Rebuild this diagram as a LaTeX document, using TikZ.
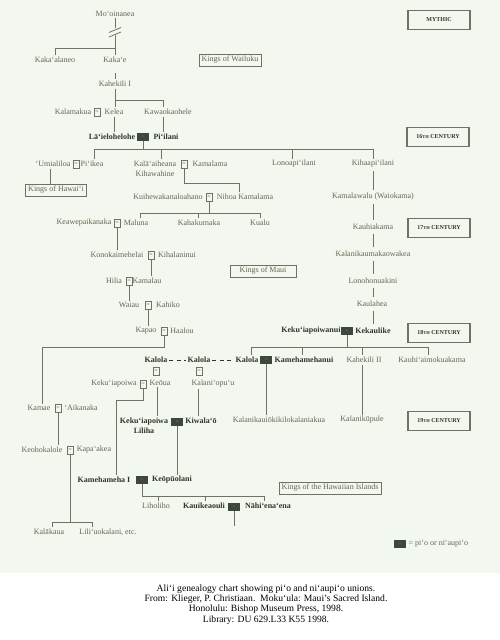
\documentclass[tikz,border=0pt]{standalone}
\usepackage{fontspec}
\setmainfont{Liberation Serif}
\definecolor{bgcol}{HTML}{F2F7EF}
\definecolor{txtcol}{HTML}{666654}
\definecolor{btxt}{HTML}{34342A}
\definecolor{lncol}{HTML}{727260}
\definecolor{piof}{HTML}{3E473C}
\tikzset{
  nm/.style={font=\fontsize{8}{10}\selectfont, text=txtcol, inner sep=1.5pt},
  bn/.style={font=\fontsize{8}{10}\selectfont\bfseries, text=btxt, inner sep=1.5pt},
  eqb/.style={draw=lncol, line width=0.5pt, fill=bgcol, minimum width=6.5pt, minimum height=7.5pt, inner sep=0pt, font=\fontsize{6}{6}\selectfont, text=txtcol},
  piob/.style={fill=piof, minimum width=12pt, minimum height=8.5pt, inner sep=0pt, font=\fontsize{5}{5}\selectfont, text=gray},
  kbox/.style={draw=lncol, line width=0.6pt, font=\fontsize{8}{10}\selectfont, text=txtcol, inner sep=2.5pt},
  cbox/.style={draw=lncol, line width=1.2pt, minimum width=62pt, minimum height=19pt, font=\fontsize{6}{7}\selectfont\bfseries, text=btxt},
  conn/.style={draw=lncol, line width=0.95pt},
}
\newcommand{\thsc}{{\fontsize{4.5}{5}\selectfont TH}}
\begin{document}
\begin{tikzpicture}[x=1pt,y=-1pt]
\fill[bgcol] (0,0) rectangle (500,573);
\useasboundingbox (0,0) rectangle (500,640);

% ---- century boxes
\node[cbox] (mythic) at (439,20) {MYTHIC};
\node[cbox] (c16) at (438,137) {16\thsc\ CENTURY};
\node[cbox] (c17) at (439,228) {17\thsc\ CENTURY};
\node[cbox] (c18) at (439,333) {18\thsc\ CENTURY};
\node[cbox] (c19) at (439,421) {19\thsc\ CENTURY};

% ---- kings boxes
\node[kbox] (wailuku) at (230,60) {Kings of Wailuku};
\node[kbox] (hawaii) at (56,190) {Kings of Hawai‘i};
\node[kbox, minimum width=66pt] (maui) at (263,271) {Kings of Maui};
\node[kbox] (islands) at (330,488) {Kings of the Hawaiian Islands};

% ---- mythic
\node[nm] (moo) at (115,14) {Mo‘oinanea};
\node[nm] (kakaalaneo) at (55,60) {Kaka‘alaneo};
\node[nm] (kakae) at (115,60) {Kaka‘e};
\node[nm] (kahekili) at (115,84) {Kahekili I};
\node[nm] (kalamakua) at (73,112) {Kalamakua};
\node[eqb] (e1) at (97,112) {=};
\node[nm] (kelea) at (114,112) {Kelea};
\node[nm] (kawao) at (168,112) {Kawaokaohele};
\node[bn] (laie) at (112,137) {Lā‘ielohelohe};
\node[piob] (p1) at (143,137) {=};
\node[bn] (piilani) at (166,137) {Pi‘ilani};

% ---- 16th century
\node[nm] (umia) at (53,164) {‘Umialiloa};
\node[eqb] (e2) at (76,164) {=};
\node[nm] (piikea) at (92,164) {Pi‘ikea};
\node[nm, align=center] (kalaai) at (155,169) {Kalā‘aiheana\\Kihawahine};
\node[eqb] (e3) at (184,164) {=};
\node[nm] (kamalama) at (210,164) {Kamalama};
\node[nm] (lonoapi) at (294,164) {Lonoapi‘ilani};
\node[nm] (kihaapi) at (373,164) {Kihaapi‘ilani};
\node[nm] (kuihewa) at (168,197) {Kuihewakanaloahano};
\node[eqb] (e4) at (209,197) {=};
\node[nm] (nihoa) at (245,197) {Nihoa Kamalama};
\node[nm] (kamalawalu) at (373,197) {Kamalawalu (Waiokama)};
\node[nm] (keawe) at (84,223) {Keawepaikanaka};
\node[eqb] (e5) at (117,223) {=};
\node[nm] (maluna) at (136,223) {Maluna};
\node[nm] (kahakumaka) at (199,223) {Kahakumaka};
\node[nm] (kualu) at (260,223) {Kualu};
\node[nm] (kauhiakama) at (373,227) {Kauhiakama};
\node[nm] (konokai) at (117,255) {Konokaimehelai};
\node[eqb] (e6) at (151,255) {=};
\node[nm] (kihalani) at (177,255) {Kihalaninui};
\node[nm] (kalanikau) at (373,254) {Kalanikaumakaowakea};
\node[nm] (hilia) at (114,281) {Hilia};
\node[eqb] (e7) at (129,281) {=};
\node[nm] (kamalau) at (147,281) {Kamalau};
\node[nm] (lonoho) at (373,281) {Lonohonuakini};
\node[nm] (waiau) at (129,305) {Waiau};
\node[eqb] (e8) at (148,305) {=};
\node[nm] (kahiko) at (168,305) {Kahiko};
\node[nm] (kaulahea) at (372,304) {Kaulahea};
\node[nm] (kapao) at (146,331) {Kapao};
\node[eqb] (e9) at (164,331) {=};
\node[nm] (haalou) at (182,331) {Haalou};
\node[bn] (kekuinui) at (311,331) {Keku‘iapoiwanui};
\node[piob] (p2) at (347,331) {=};
\node[bn] (kekaulike) at (373,331) {Kekaulike};

% ---- 18th century
\node[bn] (kalola1) at (156,360) {Kalola};
\node[bn] (kalola2) at (199,360) {Kalola};
\node[bn] (kalola3) at (247,360) {Kalola};
\node[piob] (p3) at (266,360) {=};
\node[bn] (kamehanui) at (304,360) {Kamehamehanui};
\node[nm] (kahekili2) at (364,360) {Kahekili II};
\node[nm] (kauhi) at (432,360) {Kauhi‘aimokuakama};
\node[eqb] (e10a) at (156,371) {=};
\node[eqb] (e10b) at (199,371) {=};
\node[nm] (kekui) at (114,384) {Keku‘iapoiwa};
\node[eqb] (e10) at (143,384) {=};
\node[nm] (keoua) at (160,383) {Keōua};
\node[nm] (kalaniopuu) at (213,384) {Kalani‘opu‘u};
\node[nm] (kamae) at (39,408) {Kamae};
\node[eqb] (e11) at (58,408) {=};
\node[nm] (aikanaka) at (81,408) {‘Aikanaka};
\node[bn, align=center] (liliha) at (144,426) {Keku‘iapoiwa\\Liliha};
\node[piob] (p4) at (177,422) {=};
\node[bn] (kiwalao) at (201,421) {Kiwala‘ō};
\node[nm] (kalanikauio) at (279,420) {Kalanikauiōkikilokalaniakua};
\node[nm] (kalanikupule) at (362,420) {Kalanikūpule};

% ---- 19th century
\node[nm] (keoho) at (42,450) {Keohokalole};
\node[eqb] (e12) at (70,450) {=};
\node[nm] (kapaakea) at (94,450) {Kapa‘akea};
\node[bn] (kameha1) at (104,480) {Kamehameha I};
\node[piob] (p5) at (142,480) {=};
\node[bn] (keopuo) at (172,480) {Keōpūolani};
\node[nm] (liholiho) at (156,506) {Liholiho};
\node[bn] (kauike) at (204,506) {Kauikeaouli};
\node[piob] (p6) at (234,507) {=};
\node[bn] (nahi) at (268,506) {Nāhi‘ena‘ena};
\node[nm] (kalakaua) at (49,532) {Kalākaua};
\node[nm] (liliu) at (108,532) {Lili‘uokalani, etc.};

% ---- legend
\node[piob] (leg) at (400,544) {=};
\node[nm, anchor=west] (legtxt) at (407,544) {= pi‘o or ni‘aupi‘o};

% ---- connectors
\coordinate (j1) at (115,48);
\draw[conn] (moo) -- (kakae);
\fill[bgcol] (109,31) -- (121,26) -- (121,33) -- (109,38) -- cycle;
\draw[conn, line width=0.8pt] (109,32.5) -- (121,27.5);
\draw[conn, line width=0.8pt] (109,37) -- (121,32);
\draw[conn] (j1) -| (kakaalaneo);
\draw[conn, shorten <=8pt] (kakae) -- (kahekili);
\coordinate (j2) at (115,100);
\coordinate (k2) at (163,100);
\draw[conn] (kahekili) -- (kahekili |- kelea.north);
\draw[conn] (j2) -- (k2) -- (k2 |- kawao.north);
\draw[conn] (k2 |- kawao.south) -- (k2 |- piilani.north);
\draw[conn] (kelea.south) -- (kelea.south |- laie.north);

\coordinate (b3l) at (94,149);
\coordinate (b3a) at (161,149);
\coordinate (b3b) at (292,149);
\coordinate (b3r) at (373,149);
\draw[conn] (p1) -- (p1 |- b3l);
\draw[conn] (b3l) -- (b3r);
\draw[conn] (b3l) -- (b3l |- piikea.north);
\draw[conn] (b3a) -- (b3a |- kalaai.north);
\draw[conn] (b3b) -- (b3b |- lonoapi.north);
\draw[conn] (b3r) -- (kihaapi);

\coordinate (xu) at (50,170);
\draw[conn] (xu |- umia.south) -- (xu |- hawaii.north);

\coordinate (k3) at (239,183);
\draw[conn] (e3) |- (k3) -- (k3 |- nihoa.north);

\draw[conn, shorten <=2pt, shorten >=2pt] (kihaapi) -- (kamalawalu);
\draw[conn, shorten <=2pt, shorten >=2pt] (kamalawalu) -- (kauhiakama);
\draw[conn, shorten <=2pt, shorten >=2pt] (kauhiakama) -- (kalanikau);
\draw[conn, shorten <=2pt, shorten >=2pt] (kalanikau) -- (lonoho);
\draw[conn, shorten <=2pt, shorten >=2pt] (lonoho) -- (kaulahea.north -| lonoho);
\draw[conn, shorten <=2pt, shorten >=2pt] (kaulahea.south -| lonoho) -- (kekaulike);

\coordinate (b4l) at (140,213);
\coordinate (b4m) at (198,213);
\coordinate (b4r) at (260,213);
\draw[conn] (e4) -- (e4 |- b4l);
\draw[conn] (b4l) -- (b4r);
\draw[conn] (b4l) -- (b4l |- maluna.north);
\draw[conn] (b4m) -- (b4m |- kahakumaka.north);
\draw[conn] (b4r) -- (b4r |- kualu.north);

\draw[conn] (e5) -- (e5 |- konokai.north);
\draw[conn] (e6) -- (e6 |- kamalau.north);
\draw[conn] (e7) -- (e7 |- waiau.north);
\draw[conn] (e8) -- (e8 |- kapao.north);
\coordinate (k9) at (42,347);
\draw[conn] (e9) |- (k9) -- (k9 |- kamae.north);

\coordinate (b5l) at (251,347);
\coordinate (b5a) at (302,347);
\coordinate (b5b) at (362,347);
\coordinate (b5r) at (428,347);
\draw[conn] (p2) -- (p2 |- b5l);
\draw[conn] (b5l) -- (b5r);
\draw[conn] (b5l) -- (b5l |- kalola3.north);
\draw[conn] (b5a) -- (b5a |- kamehanui.north);
\draw[conn] (b5b) -- (b5b |- kahekili2.north);
\draw[conn] (b5r) -- (b5r |- kauhi.north);

\draw[draw=btxt, line width=1pt, dash pattern=on 4pt off 3.5pt] (kalola1) -- (kalola2);
\draw[draw=btxt, line width=1pt, dash pattern=on 4pt off 3.5pt] (kalola2) -- (kalola3);

\coordinate (k10) at (116,400);
\draw[conn] (e10) |- (k10) -- (k10 |- kameha1.north);
\coordinate (xk) at (157,390);
\draw[conn] (xk |- keoua.south) -- (xk |- liliha.north);
\coordinate (xo) at (198,390);
\draw[conn] (xo |- kalaniopuu.south) -- (xo |- kiwalao.north);
\draw[conn] (p3) -- (p3 |- kalanikauio.north);
\coordinate (x2) at (362,370);
\draw[conn] (x2 |- kahekili2.south) -- (x2 |- kalanikupule.north);
\draw[conn] (e11) -- (e11 |- keoho.north);
\draw[conn] (p4) -- (p4 |- keopuo.north);

\coordinate (b6l) at (52,522);
\coordinate (b6r) at (92,522);
\draw[conn] (e12) -- (e12 |- b6l);
\draw[conn] (b6l) -- (b6r);
\draw[conn] (b6l) -- (b6l |- kalakaua.north);
\draw[conn] (b6r) -- (b6r |- liliu.north);

\coordinate (b7r) at (264,496);
\coordinate (b7a) at (158,496);
\coordinate (b7b) at (205,496);
\draw[conn] (p5) |- (b7r) -- (b7r |- nahi.north);
\draw[conn] (b7a) -- (b7a |- liholiho.north);
\draw[conn] (b7b) -- (b7b |- kauike.north);
\coordinate (free) at (234,526);
\draw[conn] (p6) -- (free);

% ---- caption
\node[font=\fontsize{9.6}{10.35}\selectfont, align=center, text=black] (cap) at (266,604.5)
 {Ali‘i genealogy chart showing pi‘o and ni‘aupi‘o unions.\\
  From: Klieger, P. Christiaan.\ \ Moku‘ula: Maui’s Sacred Island.\\
  Honolulu: Bishop Museum Press, 1998.\\
  Library: DU 629.L33 K55 1998.};
\end{tikzpicture}
\end{document}
